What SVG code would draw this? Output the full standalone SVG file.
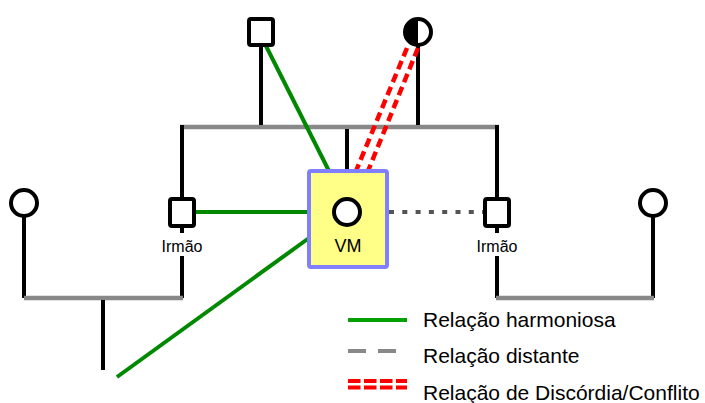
<svg xmlns="http://www.w3.org/2000/svg" width="705" height="403" viewBox="0 0 705 403">
<style>
.stem{stroke:#000;stroke-width:4;fill:none}
.gray{stroke:#888;stroke-width:4.5;fill:none}
.person{stroke:#000;stroke-width:4;fill:#fff}
.green{stroke:#008800;stroke-width:4;fill:none}
.red{stroke:#ff0000;stroke-width:4.5;fill:none;stroke-dasharray:9 5}
.lbl{font-family:"Liberation Sans",Arial,sans-serif;fill:#000}
</style>
<rect width="705" height="403" fill="#fff"/>
<g id="lines-family">
<line class="gray" x1="180" y1="127" x2="499" y2="127"/>
<line class="stem" x1="261" y1="45" x2="261" y2="125"/>
<line class="stem" x1="418" y1="45" x2="418" y2="125"/>
<line class="stem" x1="347" y1="129" x2="347" y2="171"/>
<line class="stem" x1="182" y1="125" x2="182" y2="199"/>
<line class="stem" x1="182" y1="226" x2="182" y2="233"/>
<line class="stem" x1="182" y1="256" x2="182" y2="298"/>
<line class="stem" x1="497" y1="125" x2="497" y2="199"/>
<line class="stem" x1="497" y1="226" x2="497" y2="233"/>
<line class="stem" x1="497" y1="256" x2="497" y2="298"/>
<line class="stem" x1="24" y1="216" x2="24" y2="298"/>
<line class="stem" x1="653" y1="216" x2="653" y2="298"/>
<line class="gray" x1="24" y1="298" x2="183" y2="298"/>
<line class="gray" x1="496" y1="298" x2="654" y2="298"/>
<line class="stem" x1="103" y1="300" x2="103" y2="370"/>
</g>
<g id="connectors">
<line class="green" x1="266" y1="46" x2="329" y2="171"/>
<line class="green" x1="196" y1="212" x2="309" y2="212"/>
<line class="green" x1="117" y1="377" x2="309" y2="238"/>
<line class="red" x1="407" y1="48" x2="356" y2="171"/>
<line class="red" x1="418" y1="48" x2="368" y2="171"/>
<line x1="389" y1="212" x2="484" y2="212" stroke="#555" stroke-width="4" stroke-dasharray="5 8.3"/>
</g>
<g id="node-father">
<rect class="person" x="249" y="19" width="24" height="26" rx="2"/>
</g>
<g id="node-mother">
<circle class="person" cx="418" cy="32" r="13"/>
<path d="M418,19 A13,13 0 0 0 418,45 Z" fill="#000"/>
</g>
<g id="node-vm">
<rect x="309" y="171" width="78" height="96" rx="2" fill="#ffff88" stroke="#7f7fff" stroke-width="4"/>
<circle class="person" cx="347" cy="212" r="13"/>
<text class="lbl" x="348" y="252" font-size="18" text-anchor="middle">VM</text>
</g>
<g id="node-irmao-left">
<rect class="person" x="170" y="199" width="24" height="27" rx="2"/>
<text class="lbl" x="182" y="252" font-size="16" text-anchor="middle">Irmão</text>
</g>
<g id="node-irmao-right">
<rect class="person" x="485" y="199" width="24" height="27" rx="2"/>
<text class="lbl" x="497" y="252" font-size="16" text-anchor="middle">Irmão</text>
</g>
<g id="node-spouse-left">
<circle class="person" cx="24" cy="203" r="13"/>
</g>
<g id="node-spouse-right">
<circle class="person" cx="653" cy="203" r="13"/>
</g>
<g id="legend">
<line x1="348" y1="320" x2="407" y2="320" stroke="#00a000" stroke-width="4"/>
<line x1="348" y1="351" x2="396" y2="351" stroke="#888" stroke-width="4" stroke-dasharray="18 12"/>
<line x1="348" y1="381" x2="407" y2="381" stroke="#ff0000" stroke-width="4" stroke-dasharray="12.5 3.5"/>
<line x1="348" y1="387.5" x2="407" y2="387.5" stroke="#ff0000" stroke-width="4" stroke-dasharray="12.5 3.5"/>
<text class="lbl" x="423" y="327" font-size="21">Relação harmoniosa</text>
<text class="lbl" x="423" y="363" font-size="21">Relação distante</text>
<text class="lbl" x="423" y="400" font-size="21">Relação de Discórdia/Conflito</text>
</g>
</svg>
